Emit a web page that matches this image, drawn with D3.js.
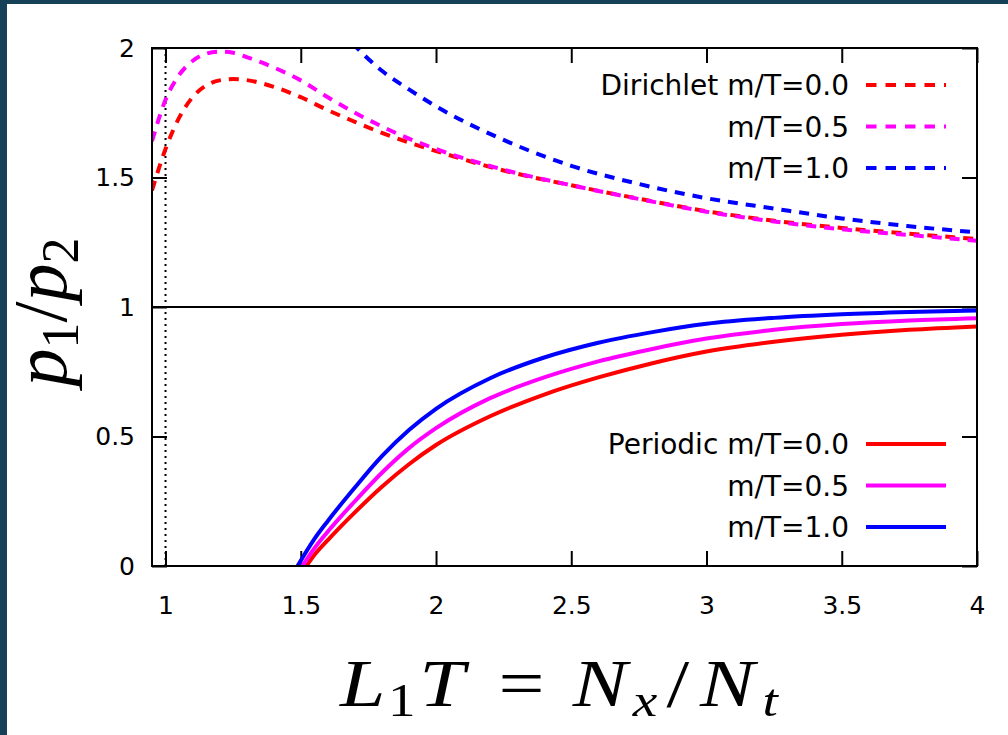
<!DOCTYPE html>
<html lang="en">
<head>
  <meta charset="UTF-8">
  <title>p1/p2 vs L1T</title>
  <script src="https://cdn.jsdelivr.net/npm/d3@7"></script>
  <style>
    body { margin: 0; background: #fff; }
    svg { display: block; }
  </style>
</head>
<body>
  <div id="box"></div>
  <script>
    // data: [L1T, p1/p2]
    const dirichlet00 = [[0.95,1.45],[1.0,1.61],[1.05,1.73],[1.1,1.81],[1.15,1.855],[1.2,1.875],[1.25,1.88],[1.3,1.876],[1.4,1.85],[1.5,1.81],[1.6,1.76],[1.7,1.715],[1.8,1.672],[1.9,1.635],[2.0,1.602],[2.25,1.527],[2.5,1.47],[2.75,1.418],[3.0,1.37],[3.25,1.333],[3.5,1.305],[3.75,1.283],[4.0,1.262]]
    const dirichlet05 = [[0.95,1.64],[1.0,1.80],[1.05,1.895],[1.1,1.95],[1.15,1.978],[1.2,1.986],[1.25,1.982],[1.3,1.965],[1.4,1.925],[1.5,1.875],[1.6,1.81],[1.7,1.75],[1.8,1.697],[1.9,1.65],[2.0,1.61],[2.25,1.53],[2.5,1.47],[2.75,1.417],[3.0,1.368],[3.25,1.33],[3.5,1.3],[3.75,1.278],[4.0,1.256]]
    const dirichlet10 = [[1.6,2.12],[1.7,2.008],[1.8,1.912],[1.9,1.84],[2.0,1.775],[2.25,1.645],[2.5,1.545],[2.75,1.475],[3.0,1.42],[3.25,1.38],[3.5,1.342],[3.75,1.312],[4.0,1.288]]
    const periodic00 = [[1.521,0],[1.55,0.042],[1.6,0.1],[1.7,0.207],[1.8,0.306],[1.9,0.393],[2.0,0.467],[2.2,0.578],[2.4,0.662],[2.6,0.728],[2.8,0.783],[3.0,0.828],[3.25,0.866],[3.5,0.893],[3.75,0.912],[4.0,0.925]]
    const periodic05 = [[1.506,0],[1.55,0.068],[1.6,0.133],[1.7,0.25],[1.8,0.36],[1.9,0.455],[2.0,0.532],[2.2,0.648],[2.4,0.728],[2.6,0.79],[2.8,0.838],[3.0,0.878],[3.25,0.912],[3.5,0.934],[3.75,0.948],[4.0,0.957]]
    const periodic10 = [[1.488,0],[1.55,0.104],[1.6,0.174],[1.7,0.303],[1.8,0.424],[1.9,0.525],[2.0,0.607],[2.2,0.725],[2.4,0.805],[2.6,0.862],[2.8,0.903],[3.0,0.935],[3.25,0.958],[3.5,0.972],[3.75,0.981],[4.0,0.987]]

    const xTicks = [1, 1.5, 2, 2.5, 3, 3.5, 4]
    const yTicks = [0, 0.5, 1, 1.5, 2]
    const dirichletLabels = ['Dirichlet m/T=0.0', 'm/T=0.5', 'm/T=1.0']
    const periodicLabels = ['Periodic m/T=0.0', 'm/T=0.5', 'm/T=1.0']
    const colors = ['#ff0000', '#ff00ff', '#0000ff']

    const width = 1008
    const height = 735
    const margin = { left: 152, right: 31, top: 48, bottom: 169 }
    const x0 = margin.left, x1 = width - margin.right
    const y0 = height - margin.bottom, y1 = margin.top

    const svg = d3.select('#box').append('svg')
      .attr('width', width)
      .attr('height', height)

    // dark strip on left and top
    svg.append('rect').attr('x', 0).attr('y', 0).attr('width', width).attr('height', 4).attr('fill', '#163f58')
    svg.append('rect').attr('x', 0).attr('y', 0).attr('width', 7).attr('height', height).attr('fill', '#163f58')

    const xScale = d3.scaleLinear().domain([0.95, 4]).range([x0, x1])
    const yScale = d3.scaleLinear().domain([0, 2]).range([y0, y1])

    svg.append('clipPath').attr('id', 'plot')
      .append('rect').attr('x', x0).attr('y', y1).attr('width', x1 - x0).attr('height', y0 - y1)

    const tickFont = 'DejaVu Sans, sans-serif'

    // axes, ticks pointing inward, mirrored on top/right
    const gx = svg.append('g').attr('transform', `translate(0,${y0})`)
      .call(d3.axisBottom(xScale).tickValues(xTicks).tickSize(-15).tickPadding(30).tickFormat(d3.format('')))
    const gxTop = svg.append('g').attr('transform', `translate(0,${y1})`)
      .call(d3.axisTop(xScale).tickValues(xTicks).tickSize(-15).tickFormat(''))
    const gy = svg.append('g').attr('transform', `translate(${x0},0)`)
      .call(d3.axisLeft(yScale).tickValues(yTicks).tickSize(-15).tickPadding(17).tickFormat(d3.format('')))
    const gyRight = svg.append('g').attr('transform', `translate(${x1},0)`)
      .call(d3.axisRight(yScale).tickValues(yTicks).tickSize(-15).tickFormat(''))

    ;[gx, gxTop, gy, gyRight].forEach(g => {
      g.select('.domain').remove()
      g.selectAll('line').attr('stroke', '#000').attr('stroke-width', 2)
      g.selectAll('text').attr('font-family', tickFont).attr('font-size', 25).attr('fill', '#000')
    })

    // reference lines
    svg.append('line')
      .attr('x1', xScale(1)).attr('x2', xScale(1)).attr('y1', y1).attr('y2', y0)
      .attr('stroke', '#000').attr('stroke-width', 2).attr('stroke-dasharray', '2,4')
    svg.append('line')
      .attr('x1', x0).attr('x2', x1).attr('y1', yScale(1)).attr('y2', yScale(1))
      .attr('stroke', '#000').attr('stroke-width', 2)

    const line = d3.line()
      .x(d => xScale(d[0]))
      .y(d => yScale(d[1]))
      .curve(d3.curveMonotoneX)

    const plot = svg.append('g').attr('clip-path', 'url(#plot)')
    const dirichlet = [dirichlet00, dirichlet05, dirichlet10]
    const periodic = [periodic00, periodic05, periodic10]

    dirichlet.forEach((s, i) => {
      plot.append('path').datum(s).attr('d', line)
        .attr('fill', 'none').attr('stroke', colors[i]).attr('stroke-width', 4)
        .attr('stroke-dasharray', '10,8')
    })
    periodic.forEach((s, i) => {
      plot.append('path').datum(s).attr('d', line)
        .attr('fill', 'none').attr('stroke', colors[i]).attr('stroke-width', 4)
    })

    // frame
    svg.append('rect')
      .attr('x', x0).attr('y', y1).attr('width', x1 - x0).attr('height', y0 - y1)
      .attr('fill', 'none').attr('stroke', '#000').attr('stroke-width', 2)

    // legends
    function legend(labels, top, dash) {
      labels.forEach((t, i) => {
        const yy = top + i * 41.5
        svg.append('text').attr('x', 849).attr('y', yy + 10)
          .attr('text-anchor', 'end').attr('font-family', tickFont).attr('font-size', 28)
          .text(t)
        svg.append('line').attr('x1', 866).attr('x2', 946).attr('y1', yy).attr('y2', yy)
          .attr('stroke', colors[i]).attr('stroke-width', 4)
          .attr('stroke-dasharray', dash)
      })
    }
    legend(dirichletLabels, 85, '10.5,9')
    legend(periodicLabels, 444, null)

    // axis titles (math set in a serif italic, widened a little like TeX glyphs)
    const mathFont = 'Liberation Serif, serif'
    const xt = svg.append('text').attr('transform', 'translate(340,706) scale(1.2,1)')
      .attr('font-family', mathFont).attr('font-size', 68)
    const xParts = [
      { t: 'L', x: 0, it: true },
      { t: '1', x: 40, sub: true },
      { t: 'T', x: 66, it: true },
      { t: '=', x: 132 },
      { t: 'N', x: 194, it: true },
      { t: 'x', x: 244, it: true, sub: true },
      { t: '/', x: 272 },
      { t: 'N', x: 300, it: true },
      { t: 't', x: 352, it: true, sub: true }
    ]
    xParts.forEach(p => {
      xt.append('tspan')
        .attr('x', p.x)
        .attr('y', p.sub ? 10 : 0)
        .attr('font-size', p.sub ? 46 : 68)
        .attr('font-style', p.it ? 'italic' : 'normal')
        .text(p.t)
    })

    const yt = svg.append('text')
      .attr('transform', 'translate(66,312) rotate(-90)')
      .attr('text-anchor', 'middle').attr('font-family', mathFont).attr('font-size', 76)
    yt.append('tspan').attr('font-style', 'italic').text('p')
    yt.append('tspan').attr('font-size', 52).attr('dy', 12).text('1')
    yt.append('tspan').attr('dy', -12).text('/')
    yt.append('tspan').attr('font-style', 'italic').text('p')
    yt.append('tspan').attr('font-size', 52).attr('dy', 12).text('2')
  </script>
</body>
</html>
